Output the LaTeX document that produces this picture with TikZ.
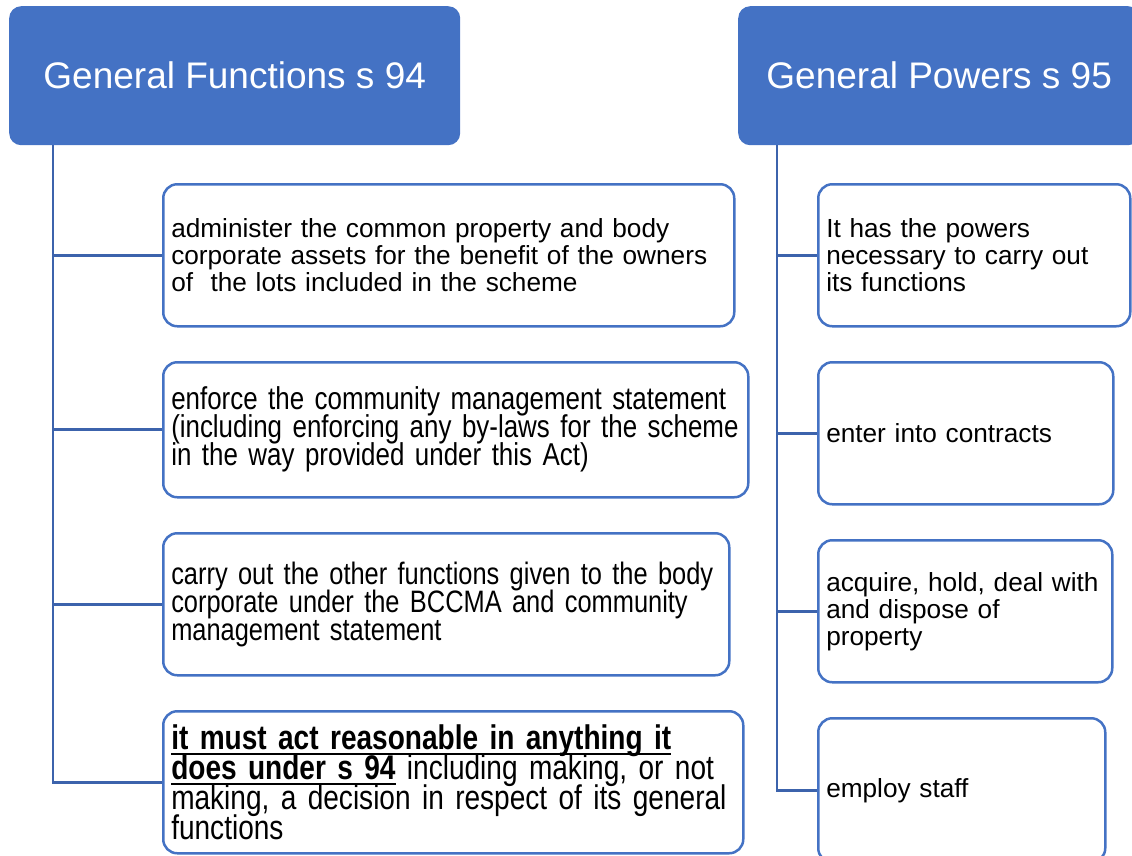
\documentclass[tikz,border=0pt]{standalone}
\usepackage{fontspec}
\setmainfont{Liberation Sans}
\newfontfamily\narrowfont[FakeStretch=0.82]{Liberation Sans}
\definecolor{hdrblue}{HTML}{4472C4}
\definecolor{boxblue}{HTML}{4472C4}
\definecolor{linkblue}{HTML}{3C63AC}
% keep a fixed baseline distance, even for tall glyphs
\newcommand{\tightlines}{\lineskiplimit-50pt\relax}
% bold text with a heavy underline that does not disturb the line spacing
\newcommand{\ulbold}[1]{\leavevmode\setbox0\hbox{\bfseries #1}\rlap{\smash{\vrule height -3.6pt depth 6pt width \wd0}}\box0\relax}
\begin{document}
\begin{tikzpicture}[x=1pt,y=-1pt,
  hdr/.style={fill=hdrblue, draw=none, rounded corners=12pt, text=white,
    font=\fontsize{37pt}{44pt}\selectfont, anchor=north west, inner sep=0pt},
  item/.style={draw=boxblue, line width=2.5pt, rounded corners=14pt, fill=white,
    anchor=north west, align=left, inner xsep=8pt, inner ysep=0pt,
    font=\fontsize{26.2pt}{27pt}\selectfont\tightlines},
  narrow/.style={font=\narrowfont\fontsize{#1}{28pt}\selectfont\tightlines},
  narrow/.default=31.6pt,
  wide/.style={font=\narrowfont\fontsize{34.2pt}{30pt}\selectfont\tightlines},
  conn/.style={draw=linkblue, line width=2.6pt}]
\path[use as bounding box] (0,0) rectangle (1132,855);
\clip (0,0) rectangle (1132,855);

% column headers
\node[hdr, minimum width=451pt, minimum height=139pt] (gf) at (9,6) {General Functions s 94};
\node[hdr, minimum width=402pt, minimum height=139pt] (gp) at (738,6) {General Powers s 95};

% general functions
\node[item, text width=555pt, minimum height=142pt] (a1) at (162,183)
  {\mbox{administer the common property and body}\\
   \mbox{corporate assets for the benefit of the owners}\\
   \mbox{of\ \ the lots included in the scheme}};
\node[item, narrow, text width=569pt, minimum height=135pt] (a2) at (162,361)
  {\mbox{enforce the community management statement}\\
   \mbox{(including enforcing any by-laws for the scheme}\\
   \mbox{in the way provided under this Act)}};
\node[item, narrow=31pt, text width=550pt, minimum height=142pt] (a3) at (162,532)
  {\mbox{carry out the other functions given to the body}\\
   \mbox{corporate under the BCCMA and community}\\
   \mbox{management statement}};
\node[item, wide, text width=564pt, minimum height=142pt] (a4) at (162,710)
  {\ulbold{it must act reasonable in anything it}\\
   \mbox{\ulbold{does under s 94} including making, or not}\\
   \mbox{making, a decision in respect of its general}\\
   \mbox{functions}};

% general powers
\node[item, text width=296pt, minimum height=142pt] (b1) at (817,183)
  {\mbox{It has the powers}\\
   \mbox{necessary to carry out}\\
   \mbox{its functions}};
\node[item, text width=279pt, minimum height=142pt] (b2) at (817,361)
  {\mbox{enter into contracts}};
\node[item, text width=278pt, minimum height=142pt] (b3) at (817,539)
  {\mbox{acquire, hold, deal with}\\
   \mbox{and dispose of}\\
   \mbox{property}};
\node[item, text width=271pt, minimum height=144pt] (b4) at (817,717)
  {\mbox{employ staff}};

% tree connectors
\coordinate (lx) at (53,0);
\coordinate (rx) at (777,0);
\draw[conn] (gf.south -| lx) -- (lx |- a4.west) -- (a4.west);
\draw[conn] (lx |- a1.west) -- (a1.west);
\draw[conn] (lx |- a2.west) -- (a2.west);
\draw[conn] (lx |- a3.west) -- (a3.west);
\draw[conn] (gp.south -| rx) -- (rx |- b4.west) -- (b4.west);
\draw[conn] (rx |- b1.west) -- (b1.west);
\draw[conn] (rx |- b2.west) -- (b2.west);
\draw[conn] (rx |- b3.west) -- (b3.west);
\end{tikzpicture}
\end{document}
